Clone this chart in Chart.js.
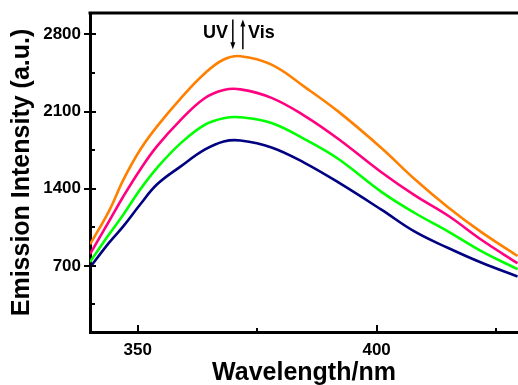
<!DOCTYPE html>
<html><head><meta charset="utf-8">
<script src="https://cdn.jsdelivr.net/npm/chart.js@4/dist/chart.umd.min.js"></script>
<style>html,body{margin:0;padding:0;background:#fff;overflow:hidden}</style>
</head><body><canvas id="c" width="518" height="385"></canvas>
<script>
const wavelengths = [340, 344, 347, 350.5, 354, 359, 364, 368, 371.5, 378, 385, 392, 401, 408, 415, 422, 429.5];
const seriesOrange = [896, 1200, 1483, 1754, 1964, 2221, 2446, 2573, 2603, 2526, 2322, 2100, 1770, 1486, 1230, 1004, 790];
const seriesPink   = [806, 1106, 1332, 1573, 1784, 2025, 2221, 2296, 2302, 2225, 2060, 1852, 1550, 1340, 1155, 935, 724];
const seriesGreen  = [736, 986, 1167, 1393, 1588, 1814, 1980, 2040, 2049, 1997, 1848, 1670, 1372, 1180, 1012, 832, 670];
const seriesNavy   = [686, 911, 1061, 1257, 1438, 1603, 1754, 1829, 1838, 1775, 1633, 1457, 1210, 1010, 862, 728, 604];
const yMajorTicks = [700, 1400, 2100, 2800];
const yMinorTicks = [350, 1050, 1750, 2450];
const xMajorTicks = [350, 400];
const xMinorTicks = [375, 425];
const labelUV = 'UV';
const labelVis = 'Vis';

const FONT = '"Liberation Sans", Arial, sans-serif';
const mk = (arr, color) => ({
  data: wavelengths.map((x, i) => ({x, y: arr[i]})),
  borderColor: color, borderWidth: 2.6, pointRadius: 0, fill: false,
  tension: 0.4
});

const decor = {
  id: 'decor',
  afterDraw(chart) {
    const {ctx, chartArea: a, scales: {x, y}} = chart;
    ctx.save();
    ctx.strokeStyle = '#000';
    ctx.lineWidth = 3;
    ctx.beginPath();
    ctx.moveTo(a.left - 1.5, a.top); ctx.lineTo(a.right + 2, a.top);
    ctx.stroke();
    ctx.lineWidth = 2;
    ctx.beginPath();
    yMajorTicks.forEach(v => { const p = Math.round(y.getPixelForValue(v)); ctx.moveTo(a.left - 6, p); ctx.lineTo(a.left + 6, p); });
    yMinorTicks.forEach(v => { const p = Math.round(y.getPixelForValue(v)); ctx.moveTo(a.left, p); ctx.lineTo(a.left + 5, p); });
    xMajorTicks.forEach(v => { const p = Math.round(x.getPixelForValue(v)); ctx.moveTo(p, a.bottom); ctx.lineTo(p, a.bottom - 7); });
    xMinorTicks.forEach(v => { const p = Math.round(x.getPixelForValue(v)); ctx.moveTo(p, a.bottom); ctx.lineTo(p, a.bottom - 4); });
    ctx.stroke();
    // arrows
    const xd = x.getPixelForValue(369.9), xu = x.getPixelForValue(372.0);
    const yt = y.getPixelForValue(2937), yb = y.getPixelForValue(2666);
    ctx.lineWidth = 1.5;
    ctx.beginPath();
    ctx.moveTo(xd, yt); ctx.lineTo(xd, yb - 6);
    ctx.moveTo(xu, yb); ctx.lineTo(xu, yt + 6);
    ctx.stroke();
    ctx.fillStyle = '#000';
    ctx.beginPath();
    ctx.moveTo(xd - 2.5, yb - 7); ctx.lineTo(xd + 2.5, yb - 7); ctx.lineTo(xd, yb); ctx.closePath();
    ctx.moveTo(xu - 2.5, yt + 7); ctx.lineTo(xu + 2.5, yt + 7); ctx.lineTo(xu, yt); ctx.closePath();
    ctx.fill();
    ctx.font = 'bold 18px ' + FONT;
    ctx.textBaseline = 'alphabetic';
    const ty = y.getPixelForValue(2824) + 6.5;
    ctx.textAlign = 'right';
    ctx.fillText(labelUV, x.getPixelForValue(368.9), ty);
    ctx.textAlign = 'left';
    ctx.fillText(labelVis, x.getPixelForValue(373.1), ty);
    ctx.restore();
  }
};

new Chart(document.getElementById('c'), {
  type: 'line',
  data: { datasets: [mk(seriesOrange, '#FF8000'), mk(seriesPink, '#FF0080'), mk(seriesGreen, '#00FF00'), mk(seriesNavy, '#000080')] },
  options: {
    responsive: false, animation: false, devicePixelRatio: 1,
    layout: { padding: { top: 13, left: 0, right: 0, bottom: 0 } },
    plugins: { legend: { display: false }, tooltip: { enabled: false } },
    scales: {
      x: {
        type: 'linear', min: 340, max: 429.6,
        afterBuildTicks: s => { s.ticks = xMajorTicks.map(v => ({value: v})); },
        afterFit: s => { s.height = 53; s.paddingLeft = 0; s.paddingRight = 0; },
        grid: { display: false },
        border: { display: true, color: '#000', width: 3 },
        ticks: { color: '#000', font: { family: FONT, size: 17, weight: 'bold' }, padding: 0, maxRotation: 0, autoSkip: false, callback: v => String(v) },
        title: { display: true, text: 'Wavelength/nm', color: '#000', font: { family: FONT, size: 25, weight: 'bold' }, padding: { top: 0, bottom: -3 } }
      },
      y: {
        type: 'linear', min: 100, max: 2995,
        afterBuildTicks: s => { s.ticks = yMajorTicks.map(v => ({value: v})); },
        afterFit: s => { s.width = 90; s.paddingTop = 0; s.paddingBottom = 0; },
        grid: { display: false },
        border: { display: true, color: '#000', width: 3 },
        ticks: { color: '#000', font: { family: FONT, size: 17, weight: 'bold' }, padding: 1, autoSkip: false, callback: v => String(v) },
        title: { display: true, text: 'Emission Intensity (a.u.)', color: '#000', font: { family: FONT, size: 25, weight: 'bold' }, padding: { top: 7, bottom: 0 } }
      }
    }
  },
  plugins: [decor]
});
</script>
</body></html>
